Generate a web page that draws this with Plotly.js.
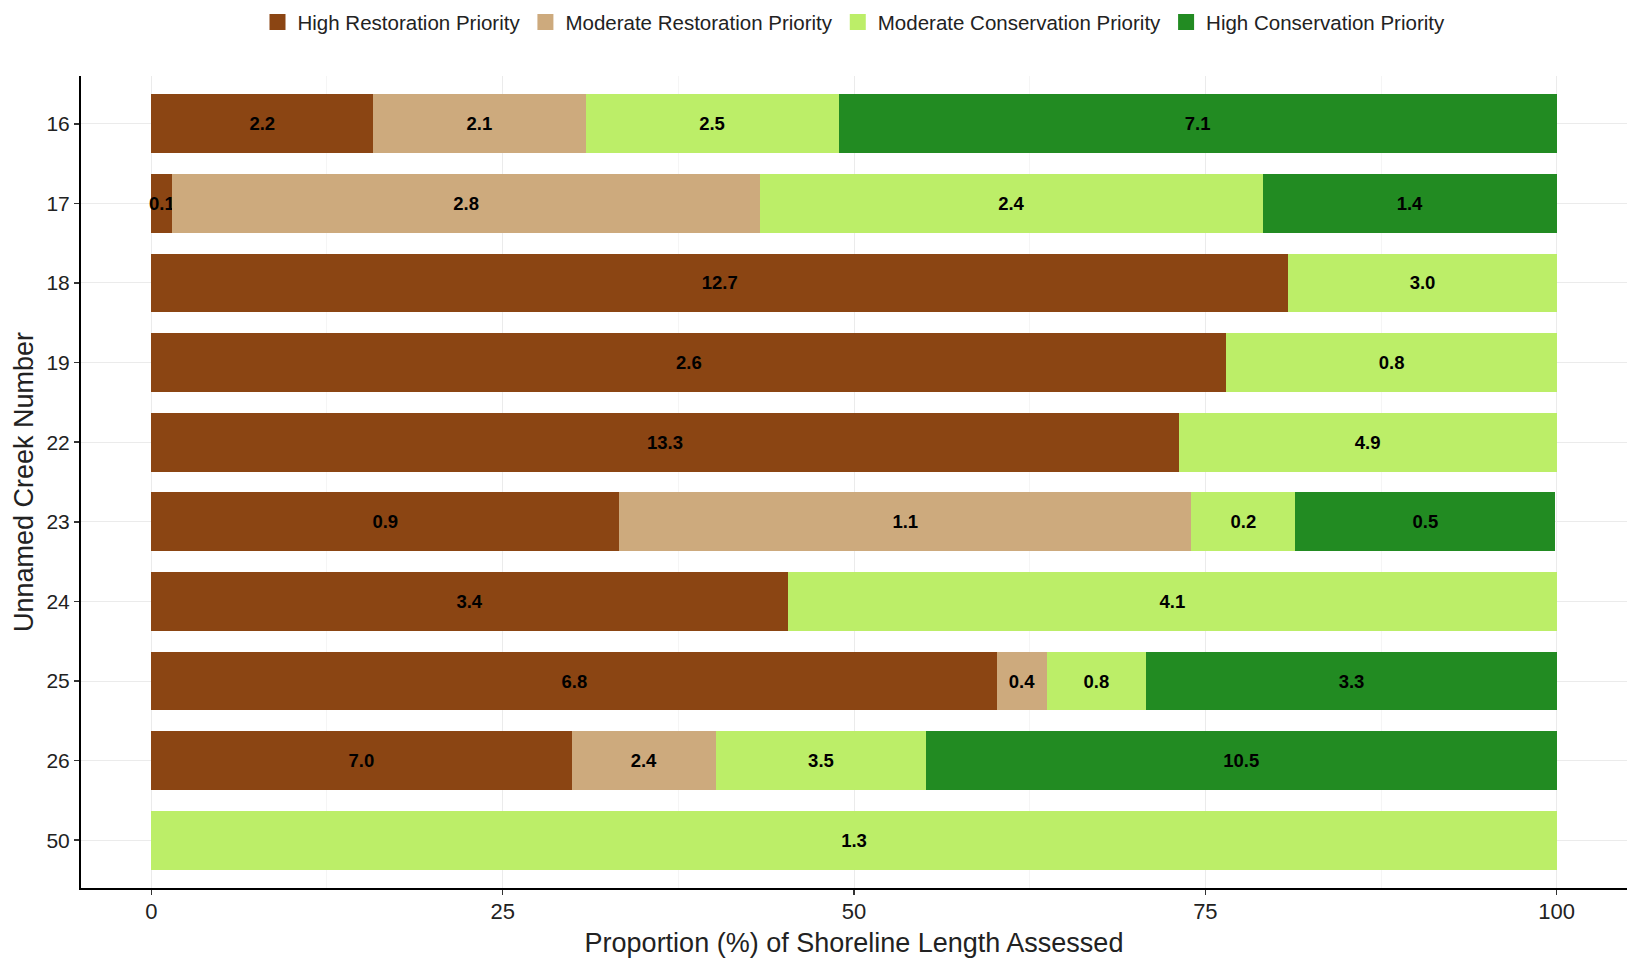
<!DOCTYPE html>
<html>
<head>
<meta charset="utf-8">
<script src="https://cdn.plot.ly/plotly-3.0.1.min.js"></script>
<style>
  html, body { margin: 0; padding: 0; background: #fff; }
  #chart { width: 1627px; height: 964px; }
</style>
</head>
<body>
<div id="chart"></div>
<script>
// Creek numbers (top to bottom)
const creeks = ["16", "17", "18", "19", "22", "23", "24", "25", "26", "50"];

// Proportion (%) of shoreline length
const highRestPct = [15.8, 1.5, 80.9, 76.5, 73.1, 33.3, 45.3, 60.2, 29.9, 0];
const modRestPct  = [15.1, 41.8, 0, 0, 0, 40.7, 0, 3.5, 10.3, 0];
const modConsPct  = [18.0, 35.8, 19.1, 23.5, 26.9, 7.4, 54.7, 7.1, 14.9, 100];
const highConsPct = [51.1, 20.9, 0, 0, 0, 18.5, 0, 29.2, 44.9, 0];

// Printed labels (lengths) inside the segments
const highRestLbl = ["2.2", "0.1", "12.7", "2.6", "13.3", "0.9", "3.4", "6.8", "7.0", ""];
const modRestLbl  = ["2.1", "2.8", "", "", "", "1.1", "", "0.4", "2.4", ""];
const modConsLbl  = ["2.5", "2.4", "3.0", "0.8", "4.9", "0.2", "4.1", "0.8", "3.5", "1.3"];
const highConsLbl = ["7.1", "1.4", "", "", "", "0.5", "", "3.3", "10.5", ""];

const seriesNames = ["High Restoration Priority", "Moderate Restoration Priority",
                     "Moderate Conservation Priority", "High Conservation Priority"];
const seriesColors = ["#8B4513", "#CDAA7D", "#BCEE68", "#228B22"];
const seriesVals = [highRestPct, modRestPct, modConsPct, highConsPct];
const seriesLbls = [highRestLbl, modRestLbl, modConsLbl, highConsLbl];

const FONT = "Liberation Sans, Arial, Helvetica, sans-serif";

const traces = seriesNames.map((name, i) => ({
  type: "bar",
  orientation: "h",
  name: name,
  legendgroup: name,
  showlegend: false,
  y: creeks,
  x: seriesVals[i],
  text: seriesLbls[i],
  textposition: "inside",
  insidetextanchor: "middle",
  textangle: 0,
  constraintext: "none",
  cliponaxis: false,
  textfont: { family: FONT, size: 18.5, color: "#000", weight: "bold" },
  marker: { color: seriesColors[i], line: { width: 0 } },
  width: 0.74,
  hoverinfo: "skip"
}));

// Legend entries with larger square swatches
seriesNames.forEach((name, i) => {
  traces.push({
    type: "scatter",
    mode: "markers",
    name: name,
    legendgroup: name,
    showlegend: true,
    x: [null],
    y: [null],
    marker: { symbol: "square", size: 22, color: seriesColors[i] },
    hoverinfo: "skip"
  });
});

const layout = {
  width: 1627,
  height: 964,
  barmode: "stack",
  paper_bgcolor: "#fff",
  plot_bgcolor: "#fff",
  margin: { l: 81, r: 0, t: 76, b: 76, autoexpand: false },
  font: { family: FONT, color: "#333" },
  uniformtext: { mode: "show", minsize: 18 },
  showlegend: true,
  legend: {
    orientation: "h",
    x: 0.5, xanchor: "center",
    xref: "paper",
    yref: "container",
    y: 0.977, yanchor: "middle",
    traceorder: "normal",
    font: { family: FONT, size: 20.5, color: "#222" },
    itemwidth: 30,
    itemclick: false
  },
  xaxis: {
    range: [-5, 105],
    tickvals: [0, 25, 50, 75, 100],
    ticktext: ["0", "25", "50", "75", "100"],
    showgrid: true,
    gridcolor: "#EBEBEB",
    gridwidth: 1,
    minor: { tickvals: [12.5, 37.5, 62.5, 87.5], showgrid: true, gridcolor: "#F5F5F5", gridwidth: 1, ticks: "" },
    zeroline: false,
    showline: true,
    linecolor: "#000",
    linewidth: 2,
    ticks: "outside",
    ticklen: 5,
    tickwidth: 1.5,
    tickcolor: "#333",
    ticklabelstandoff: -2,
    tickfont: { family: FONT, size: 22, color: "#222" },
    title: { text: "Proportion (%) of Shoreline Length Assessed", font: { family: FONT, size: 27, color: "#222" }, standoff: 10 },
    fixedrange: true
  },
  yaxis: {
    type: "category",
    categoryorder: "array",
    categoryarray: creeks,
    range: [9.6, -0.6],
    showgrid: true,
    gridcolor: "#EBEBEB",
    gridwidth: 1,
    zeroline: false,
    showline: true,
    linecolor: "#000",
    linewidth: 2,
    ticks: "outside",
    ticklen: 5,
    tickwidth: 1.5,
    tickcolor: "#333",
    tickfont: { family: FONT, size: 21, color: "#222" },
    title: { text: "Unnamed Creek Number", font: { family: FONT, size: 27, color: "#222" }, standoff: 5 },
    fixedrange: true
  }
};

Plotly.newPlot("chart", traces, layout, { displayModeBar: false, staticPlot: true });
</script>
</body>
</html>
